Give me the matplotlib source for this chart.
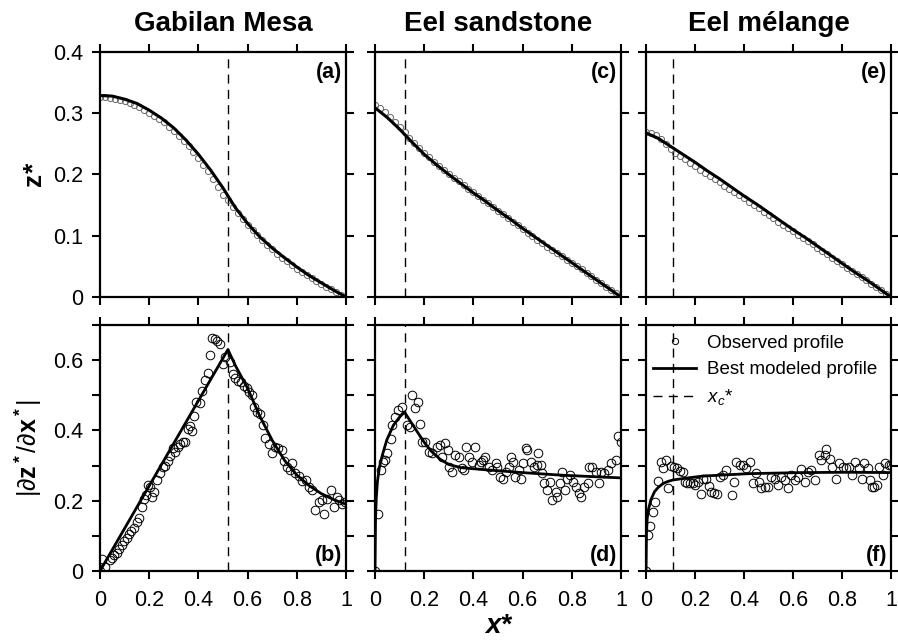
import numpy as np
import matplotlib
matplotlib.use("Agg")
import matplotlib.pyplot as plt
from matplotlib.ticker import FormatStrFormatter, MultipleLocator
from matplotlib.lines import Line2D

plt.rcParams['font.family'] = ['Liberation Sans', 'DejaVu Sans']
plt.rcParams['mathtext.fontset'] = 'custom'
plt.rcParams['mathtext.rm'] = 'Liberation Sans'
plt.rcParams['mathtext.it'] = 'Liberation Sans:italic'
plt.rcParams['mathtext.bf'] = 'Liberation Sans:bold'

titles = ["Gabilan Mesa", "Eel sandstone", "Eel m\u00e9lange"]
xc = [0.52, 0.12, 0.11]

# observed elevation profiles (top row)
zx = [0.00, 0.02, 0.04, 0.06, 0.08, 0.10, 0.12, 0.14, 0.16, 0.18, 0.20, 0.22, 0.24,
      0.26, 0.28, 0.30, 0.32, 0.34, 0.36, 0.38, 0.40, 0.42, 0.44, 0.46, 0.48, 0.50,
      0.52, 0.54, 0.56, 0.58, 0.60, 0.62, 0.64, 0.66, 0.68, 0.70, 0.72, 0.74, 0.76,
      0.78, 0.80, 0.82, 0.84, 0.86, 0.88, 0.90, 0.92, 0.94, 0.96, 0.98, 1.00]
z_gab = [0.326, 0.326, 0.325, 0.324, 0.322, 0.320, 0.317, 0.314, 0.310, 0.306, 0.301,
         0.296, 0.291, 0.285, 0.278, 0.271, 0.263, 0.255, 0.246, 0.237, 0.227, 0.216,
         0.205, 0.193, 0.180, 0.167, 0.158, 0.147, 0.137, 0.127, 0.118, 0.109, 0.101,
         0.093, 0.085, 0.078, 0.071, 0.064, 0.058, 0.052, 0.046, 0.041, 0.036, 0.031,
         0.026, 0.021, 0.017, 0.013, 0.008, 0.004, 0.000]
z_sand = [0.314, 0.308, 0.302, 0.294, 0.286, 0.278, 0.269, 0.260, 0.251, 0.243, 0.235,
          0.228, 0.221, 0.214, 0.207, 0.201, 0.195, 0.189, 0.183, 0.177, 0.171, 0.165,
          0.159, 0.153, 0.147, 0.141, 0.135, 0.129, 0.123, 0.117, 0.111, 0.105, 0.099,
          0.093, 0.088, 0.082, 0.077, 0.072, 0.067, 0.061, 0.056, 0.050, 0.045, 0.039,
          0.034, 0.028, 0.023, 0.017, 0.011, 0.006, 0.000]
z_mel = [0.270, 0.268, 0.264, 0.258, 0.250, 0.241, 0.235, 0.230, 0.225, 0.219, 0.214,
         0.208, 0.203, 0.198, 0.192, 0.187, 0.182, 0.176, 0.171, 0.166, 0.161, 0.155,
         0.150, 0.145, 0.139, 0.134, 0.129, 0.123, 0.118, 0.113, 0.107, 0.102, 0.097,
         0.091, 0.086, 0.080, 0.075, 0.070, 0.064, 0.059, 0.054, 0.048, 0.043, 0.038,
         0.032, 0.027, 0.021, 0.016, 0.011, 0.005, 0.000]

# modeled elevation profiles
mx = [0.00, 0.05, 0.10, 0.15, 0.20, 0.25, 0.30, 0.35, 0.40, 0.45, 0.50,
      0.55, 0.60, 0.65, 0.70, 0.75, 0.80, 0.85, 0.90, 0.95, 1.00]
mz_gab = [0.329, 0.328, 0.323, 0.316, 0.305, 0.292, 0.276, 0.256, 0.233, 0.207, 0.178,
          0.146, 0.120, 0.098, 0.080, 0.064, 0.049, 0.035, 0.023, 0.011, 0.000]
mz_sand = [0.309, 0.293, 0.274, 0.253, 0.233, 0.216, 0.200, 0.185, 0.170, 0.156, 0.141,
           0.127, 0.112, 0.098, 0.084, 0.070, 0.056, 0.042, 0.028, 0.014, 0.000]
mz_mel = [0.268, 0.259, 0.246, 0.233, 0.220, 0.206, 0.193, 0.179, 0.165, 0.152, 0.138,
          0.124, 0.110, 0.097, 0.083, 0.069, 0.055, 0.041, 0.028, 0.014, 0.000]

# observed slopes (bottom row)
sx_gab = [0.0, 0.010, 0.022, 0.040, 0.048, 0.058, 0.068, 0.078, 0.088, 0.098, 0.108, 0.118,
          0.128, 0.138, 0.150, 0.160, 0.170, 0.178, 0.186, 0.194, 0.204, 0.212, 0.220,
          0.232, 0.244, 0.256, 0.266, 0.276, 0.286, 0.296, 0.306, 0.316, 0.326, 0.336,
          0.346, 0.356, 0.366, 0.372, 0.382, 0.390, 0.406, 0.416, 0.426, 0.440, 0.448,
          0.456, 0.466, 0.476, 0.486, 0.498, 0.508, 0.528, 0.540, 0.550, 0.562, 0.574,
          0.584, 0.596, 0.606, 0.616, 0.628, 0.638, 0.650, 0.664, 0.672, 0.686, 0.700,
          0.712, 0.724, 0.738, 0.746, 0.760, 0.772, 0.782, 0.794, 0.808, 0.822, 0.836,
          0.850, 0.862, 0.876, 0.890, 0.902, 0.912, 0.924, 0.938, 0.950, 0.962, 0.972,
          0.984, 0.996]
s_gab = [0.0, 0.035, 0.010, 0.030, 0.038, 0.045, 0.052, 0.062, 0.075, 0.085, 0.095, 0.105,
         0.115, 0.122, 0.140, 0.150, 0.182, 0.205, 0.215, 0.244, 0.240, 0.210, 0.226,
         0.258, 0.280, 0.296, 0.300, 0.312, 0.326, 0.350, 0.340, 0.352, 0.362, 0.366,
         0.366, 0.404, 0.412, 0.398, 0.440, 0.482, 0.478, 0.512, 0.544, 0.562, 0.614,
         0.664, 0.660, 0.654, 0.645, 0.590, 0.608, 0.596, 0.560, 0.550, 0.540, 0.538,
         0.526, 0.522, 0.508, 0.500, 0.468, 0.452, 0.446, 0.415, 0.378, 0.362, 0.335,
         0.354, 0.350, 0.344, 0.312, 0.296, 0.288, 0.306, 0.278, 0.270, 0.255, 0.258,
         0.240, 0.230, 0.173, 0.197, 0.202, 0.163, 0.206, 0.230, 0.182, 0.211, 0.203,
         0.192, 0.197]
sx_sand = [0.0, 0.014, 0.023, 0.031, 0.041, 0.050, 0.064, 0.071, 0.082, 0.095, 0.109, 0.129,
           0.143, 0.150, 0.163, 0.173, 0.181, 0.190, 0.204, 0.218, 0.231, 0.252, 0.265,
           0.272, 0.286, 0.295, 0.299, 0.313, 0.327, 0.340, 0.354, 0.361, 0.371, 0.381,
           0.395, 0.408, 0.422, 0.429, 0.439, 0.449, 0.463, 0.476, 0.490, 0.497, 0.510,
           0.521, 0.531, 0.544, 0.554, 0.561, 0.571, 0.585, 0.592, 0.603, 0.612, 0.619,
           0.633, 0.646, 0.657, 0.664, 0.673, 0.680, 0.687, 0.701, 0.710, 0.721, 0.735,
           0.741, 0.752, 0.762, 0.771, 0.782, 0.793, 0.803, 0.816, 0.830, 0.839, 0.850,
           0.864, 0.871, 0.884, 0.898, 0.912, 0.918, 0.932, 0.946, 0.959, 0.980, 0.989,
           1.000]
s_sand = [0.0, 0.163, 0.287, 0.311, 0.316, 0.335, 0.375, 0.415, 0.439, 0.458, 0.466, 0.415,
          0.411, 0.501, 0.463, 0.482, 0.418, 0.368, 0.368, 0.339, 0.335, 0.354, 0.358,
          0.325, 0.363, 0.344, 0.297, 0.282, 0.330, 0.325, 0.292, 0.287, 0.354, 0.325,
          0.311, 0.354, 0.301, 0.311, 0.316, 0.325, 0.297, 0.287, 0.306, 0.297, 0.268,
          0.263, 0.282, 0.297, 0.325, 0.311, 0.268, 0.287, 0.263, 0.306, 0.349, 0.344,
          0.311, 0.297, 0.301, 0.335, 0.301, 0.278, 0.249, 0.230, 0.254, 0.202, 0.225,
          0.211, 0.249, 0.282, 0.230, 0.263, 0.272, 0.254, 0.240, 0.221, 0.211, 0.240,
          0.249, 0.297, 0.297, 0.282, 0.249, 0.282, 0.278, 0.287, 0.306, 0.317, 0.384,
          0.368]
sx_mel = [0.0, 0.009, 0.016, 0.027, 0.037, 0.050, 0.061, 0.071, 0.081, 0.091, 0.104, 0.114,
          0.125, 0.138, 0.149, 0.159, 0.168, 0.179, 0.190, 0.201, 0.213, 0.223, 0.233,
          0.244, 0.258, 0.267, 0.277, 0.288, 0.301, 0.315, 0.328, 0.349, 0.358, 0.369,
          0.383, 0.396, 0.410, 0.423, 0.437, 0.450, 0.461, 0.471, 0.484, 0.498, 0.512,
          0.525, 0.539, 0.552, 0.566, 0.579, 0.593, 0.607, 0.620, 0.634, 0.647, 0.661,
          0.674, 0.688, 0.706, 0.715, 0.729, 0.735, 0.749, 0.760, 0.776, 0.787, 0.803,
          0.817, 0.830, 0.841, 0.855, 0.868, 0.882, 0.891, 0.905, 0.915, 0.923, 0.932,
          0.942, 0.953, 0.966, 0.977, 0.991, 1.000]
s_mel = [0.0, 0.102, 0.127, 0.168, 0.197, 0.257, 0.311, 0.292, 0.316, 0.235, 0.298, 0.297,
         0.292, 0.285, 0.282, 0.254, 0.251, 0.251, 0.249, 0.244, 0.254, 0.219, 0.263,
         0.263, 0.241, 0.225, 0.222, 0.219, 0.268, 0.273, 0.287, 0.216, 0.254, 0.311,
         0.301, 0.301, 0.292, 0.311, 0.249, 0.278, 0.254, 0.235, 0.240, 0.240, 0.268,
         0.263, 0.244, 0.268, 0.259, 0.235, 0.273, 0.259, 0.268, 0.289, 0.254, 0.282,
         0.287, 0.259, 0.330, 0.316, 0.330, 0.346, 0.320, 0.295, 0.263, 0.306, 0.297,
         0.292, 0.297, 0.273, 0.311, 0.292, 0.263, 0.306, 0.292, 0.259, 0.240, 0.240,
         0.244, 0.297, 0.273, 0.306, 0.301, 0.303]

# modeled slopes
msx_gab = [0.0, 0.52, 0.55, 0.60, 0.65, 0.70, 0.75, 0.80, 0.85, 0.90, 0.95, 1.0]
ms_gab = [0.0, 0.630, 0.585, 0.520, 0.440, 0.372, 0.315, 0.273, 0.243, 0.220, 0.203, 0.190]
msx_sand = [0.0, 0.002, 0.005, 0.010, 0.018, 0.030, 0.048, 0.075, 0.100, 0.120, 0.145,
            0.170, 0.200, 0.230, 0.265, 0.300, 0.350, 0.450, 0.600, 0.750, 0.900, 1.0]
ms_sand = [0.0, 0.140, 0.205, 0.255, 0.295, 0.330, 0.373, 0.415, 0.438, 0.452, 0.425,
           0.398, 0.366, 0.340, 0.318, 0.303, 0.294, 0.288, 0.280, 0.273, 0.268, 0.265]
msx_mel = [0.0, 0.002, 0.005, 0.010, 0.020, 0.035, 0.050, 0.070, 0.090, 0.110, 0.150,
           0.230, 0.420, 0.630, 0.830, 1.0]
ms_mel = [0.0, 0.110, 0.150, 0.175, 0.203, 0.226, 0.238, 0.249, 0.255, 0.259, 0.263,
          0.270, 0.277, 0.280, 0.281, 0.280]

z_obs = [z_gab, z_sand, z_mel]
z_mod = [mz_gab, mz_sand, mz_mel]
s_obs = [(sx_gab, s_gab), (sx_sand, s_sand), (sx_mel, s_mel)]
s_mod = [(msx_gab, ms_gab), (msx_sand, ms_sand), (msx_mel, ms_mel)]
top_tags = ["(a)", "(c)", "(e)"]
bot_tags = ["(b)", "(d)", "(f)"]

W, H = 898, 643
fig = plt.figure(figsize=(W / 100, H / 100), dpi=100)
lefts = [100, 375, 646]
widths = [246, 246, 245]
dash = (0, (6.5, 4.5))

for i in range(3):
    L = lefts[i] / W
    w = widths[i] / W
    ax1 = fig.add_axes([L, 1 - 297 / H, w, 245 / H])
    ax2 = fig.add_axes([L, 1 - 571 / H, w, 246 / H])

    ax1.plot(zx, z_obs[i], 'o', ms=4.4, mfc='none', mec='0.4', mew=0.7, zorder=2)
    ax1.plot(mx, z_mod[i], '-', color='k', lw=2.2, zorder=3)
    ax1.axvline(xc[i], color='k', lw=1.0, ls=dash, zorder=1)
    ax1.set_xlim(0, 1)
    ax1.set_ylim(0, 0.4)
    ax1.xaxis.set_major_locator(MultipleLocator(0.2))
    ax1.yaxis.set_major_locator(MultipleLocator(0.1))
    ax1.yaxis.set_major_formatter(FormatStrFormatter('%g'))
    ax1.set_xticklabels([])
    if i > 0:
        ax1.set_yticklabels([])
    ax1.text(0.985, 0.96, top_tags[i], transform=ax1.transAxes, ha='right', va='top',
             fontsize=15.5, fontweight='bold')

    ox, oy = s_obs[i]
    ax2.plot(ox, oy, 'o', ms=6.2, mfc='none', mec='k', mew=0.7, zorder=2)
    px, py = s_mod[i]
    ax2.plot(px, py, '-', color='k', lw=2.0, zorder=3)
    ax2.axvline(xc[i], color='k', lw=1.0, ls=dash, zorder=1)
    ax2.set_xlim(0, 1)
    ax2.set_ylim(0, 0.7)
    ax2.xaxis.set_major_locator(MultipleLocator(0.2))
    ax2.xaxis.set_major_formatter(FormatStrFormatter('%g'))
    ax2.yaxis.set_major_locator(MultipleLocator(0.2))
    ax2.yaxis.set_minor_locator(MultipleLocator(0.1))
    ax2.yaxis.set_major_formatter(FormatStrFormatter('%g'))
    if i > 0:
        ax2.set_yticklabels([])
    ax2.text(0.985, 0.02, bot_tags[i], transform=ax2.transAxes, ha='right', va='bottom',
             fontsize=15.5, fontweight='bold')

    for ax in (ax1, ax2):
        for sp in ax.spines.values():
            sp.set_linewidth(1.6)
        ax.tick_params(which='both', direction='out', top=True, right=True,
                       length=6, width=1.5, labelsize=15.5)
        ax.tick_params(axis='y', pad=6)
        ax.tick_params(axis='x', pad=8)

    fig.text((lefts[i] + widths[i] / 2) / W, 1 - 24 / H, titles[i], ha='center',
             va='center', fontsize=20, fontweight='bold')

    if i == 2:
        handles = [Line2D([], [], ls='none', marker='o', ms=4.5, mfc='none', mec='k', mew=0.7),
                   Line2D([], [], color='k', lw=2.0),
                   Line2D([], [], color='k', lw=1.0, ls=dash)]
        ax2.legend(handles, ['Observed profile', 'Best modeled profile', r'$x_c$*'],
                   loc='upper left', bbox_to_anchor=(-0.04, 1.03), frameon=False,
                   fontsize=13.5, handlelength=2.3, handletextpad=0.6, labelspacing=0.5)

fig.text(35 / W, 1 - 175 / H, r'$\mathbf{z}$*', rotation=90, ha='center', va='center',
         fontsize=19, fontweight='bold', style='italic')
fig.text(28 / W, 1 - 448 / H, r'$|\partial\mathbf{z^*}/\partial\mathbf{x^*}|$', rotation=90,
         ha='center', va='center', fontsize=18)
fig.text(498 / W, 1 - 626 / H, 'x*', ha='center', va='center', fontsize=20,
         fontweight='bold', style='italic')

fig.savefig("out.png", dpi=100)
